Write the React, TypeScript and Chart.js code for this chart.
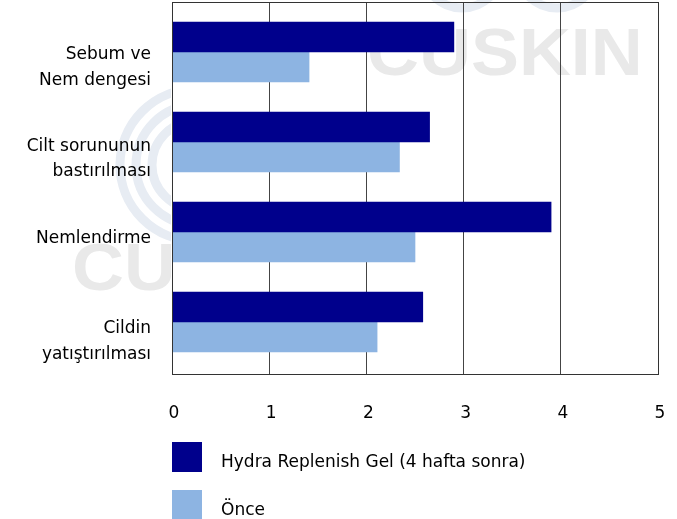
import React, { useEffect, useRef } from "react";
import { Chart, registerables } from "chart.js";

Chart.register(...registerables);

const categories: string[][] = [
  ["Sebum ve", "Nem dengesi"],
  ["Cilt sorununun", "bastırılması"],
  ["Nemlendirme"],
  ["Cildin", "yatıştırılması"],
];
const seriesNames = ["Hydra Replenish Gel (4 hafta sonra)", "Önce"];
const afterValues = [2.9, 2.65, 3.9, 2.58];
const beforeValues = [1.41, 2.34, 2.5, 2.11];
const xTicks = [0, 1, 2, 3, 4, 5];
const categoryIndex = [0, 1, 2, 3];

const DARK = "#00008C";
const LIGHT = "#8DB4E2";
const FONT = "'DejaVu Sans', sans-serif";
// the reference places each category label slightly below its bar pair
const LABEL_SHIFT = [0.17, 0.19, 0.07, 0.22];

const framePlugin = {
  id: "frame",
  beforeDraw(chart: any) {
    const ctx = chart.ctx;
    const left = chart.chartArea.left;
    ctx.save();
    ctx.strokeStyle = "#e7ecf3";
    ctx.lineWidth = 9;
    ctx.beginPath();
    ctx.arc(462, -32, 40, 0, Math.PI * 2);
    ctx.stroke();
    ctx.beginPath();
    ctx.arc(557, -32, 40, 0, Math.PI * 2);
    ctx.stroke();
    ctx.fillStyle = "#e9e9e9";
    ctx.font = "bold 66px 'Liberation Sans', Arial, sans-serif";
    ctx.textBaseline = "alphabetic";
    ctx.save();
    ctx.translate(367, 75);
    ctx.scale(1.09, 1);
    ctx.fillText("CUSKIN", 0, 0);
    ctx.restore();
    ctx.beginPath();
    ctx.rect(0, 0, left - 1, chart.height);
    ctx.clip();
    ctx.strokeStyle = "#e7ecf3";
    ctx.lineWidth = 9;
    [76, 60, 44].forEach((r) => {
      ctx.beginPath();
      ctx.arc(196, 165, r, 0, Math.PI * 2);
      ctx.stroke();
    });
    ctx.fillStyle = "#e9e9e9";
    ctx.save();
    ctx.translate(72, 290);
    ctx.scale(1.09, 1);
    ctx.fillText("CUSKIN", 0, 0);
    ctx.restore();
    ctx.restore();
  },
  afterDraw(chart: any) {
    const { left, top, right, bottom } = chart.chartArea;
    const ctx = chart.ctx;
    ctx.save();
    ctx.strokeStyle = "#333";
    ctx.lineWidth = 1;
    ctx.strokeRect(Math.round(left) + 0.5, Math.round(top) + 0.5, Math.round(right - left), Math.round(bottom - top));
    ctx.restore();
  },
};

export default function App() {
  const ref = useRef<HTMLCanvasElement>(null);
  useEffect(() => {
    document.body.style.margin = "0";
    const chart = new Chart(ref.current!, {
      type: "bar",
      data: {
        datasets: [
          {
            label: seriesNames[0],
            data: categoryIndex.map((i) => ({ x: afterValues[i], y: i })),
            backgroundColor: DARK,
            barThickness: 30,
          },
          {
            label: seriesNames[1],
            data: categoryIndex.map((i) => ({ x: beforeValues[i], y: i })),
            backgroundColor: LIGHT,
            barThickness: 30,
          },
        ],
      },
      options: {
        indexAxis: "y",
        animation: false,
        responsive: false,
        layout: { padding: { top: 2, right: 19, bottom: 97, left: 0 } },
        plugins: { legend: { display: false }, tooltip: { enabled: false } },
        scales: {
          x: {
            type: "linear",
            min: 0,
            max: 5,
            afterBuildTicks: (s: any) => {
              s.ticks = xTicks.map((v) => ({ value: v }));
            },
            afterFit: (s: any) => {
              s.height = 48;
              s.paddingLeft = 0;
              s.paddingRight = 0;
            },
            grid: { color: "#444", lineWidth: 1, drawTicks: false },
            border: { color: "#333" },
            ticks: { padding: 29, labelOffset: 2, color: "#000", font: { family: FONT, size: 17 } },
          },
          y: {
            type: "linear",
            reverse: true,
            offset: false,
            min: -0.556,
            max: 3.578,
            afterBuildTicks: (s: any) => {
              s.ticks = categoryIndex.map((v) => ({ value: v + LABEL_SHIFT[v] }));
            },
            afterFit: (s: any) => {
              s.width = 172;
              s.paddingTop = 0;
              s.paddingBottom = 0;
            },
            grid: { display: false, drawTicks: false },
            border: { color: "#333" },
            ticks: {
              padding: 21,
              color: "#000",
              font: { family: FONT, size: 17, lineHeight: 1.5 },
              callback: (v: any) => categories[Math.round(Number(v))] ?? "",
            },
          },
        },
      },
      plugins: [framePlugin],
    });
    return () => chart.destroy();
  }, []);

  const legendItem = (color: string, text: string, top: number) => (
    <div style={{ position: "absolute", left: 172, top, display: "flex", alignItems: "center" }}>
      <div style={{ width: 30, height: 30, background: color }} />
      <span style={{ marginLeft: 19, position: "relative", top: 4, fontFamily: FONT, fontSize: 17, color: "#000" }}>{text}</span>
    </div>
  );

  return (
    <div style={{ position: "relative", width: 677, height: 519, overflow: "hidden", background: "#fff" }}>
      <canvas ref={ref} width={677} height={519} style={{ display: "block" }} />
      {legendItem(DARK, seriesNames[0], 442)}
      {legendItem(LIGHT, seriesNames[1], 490)}
    </div>
  );
}
